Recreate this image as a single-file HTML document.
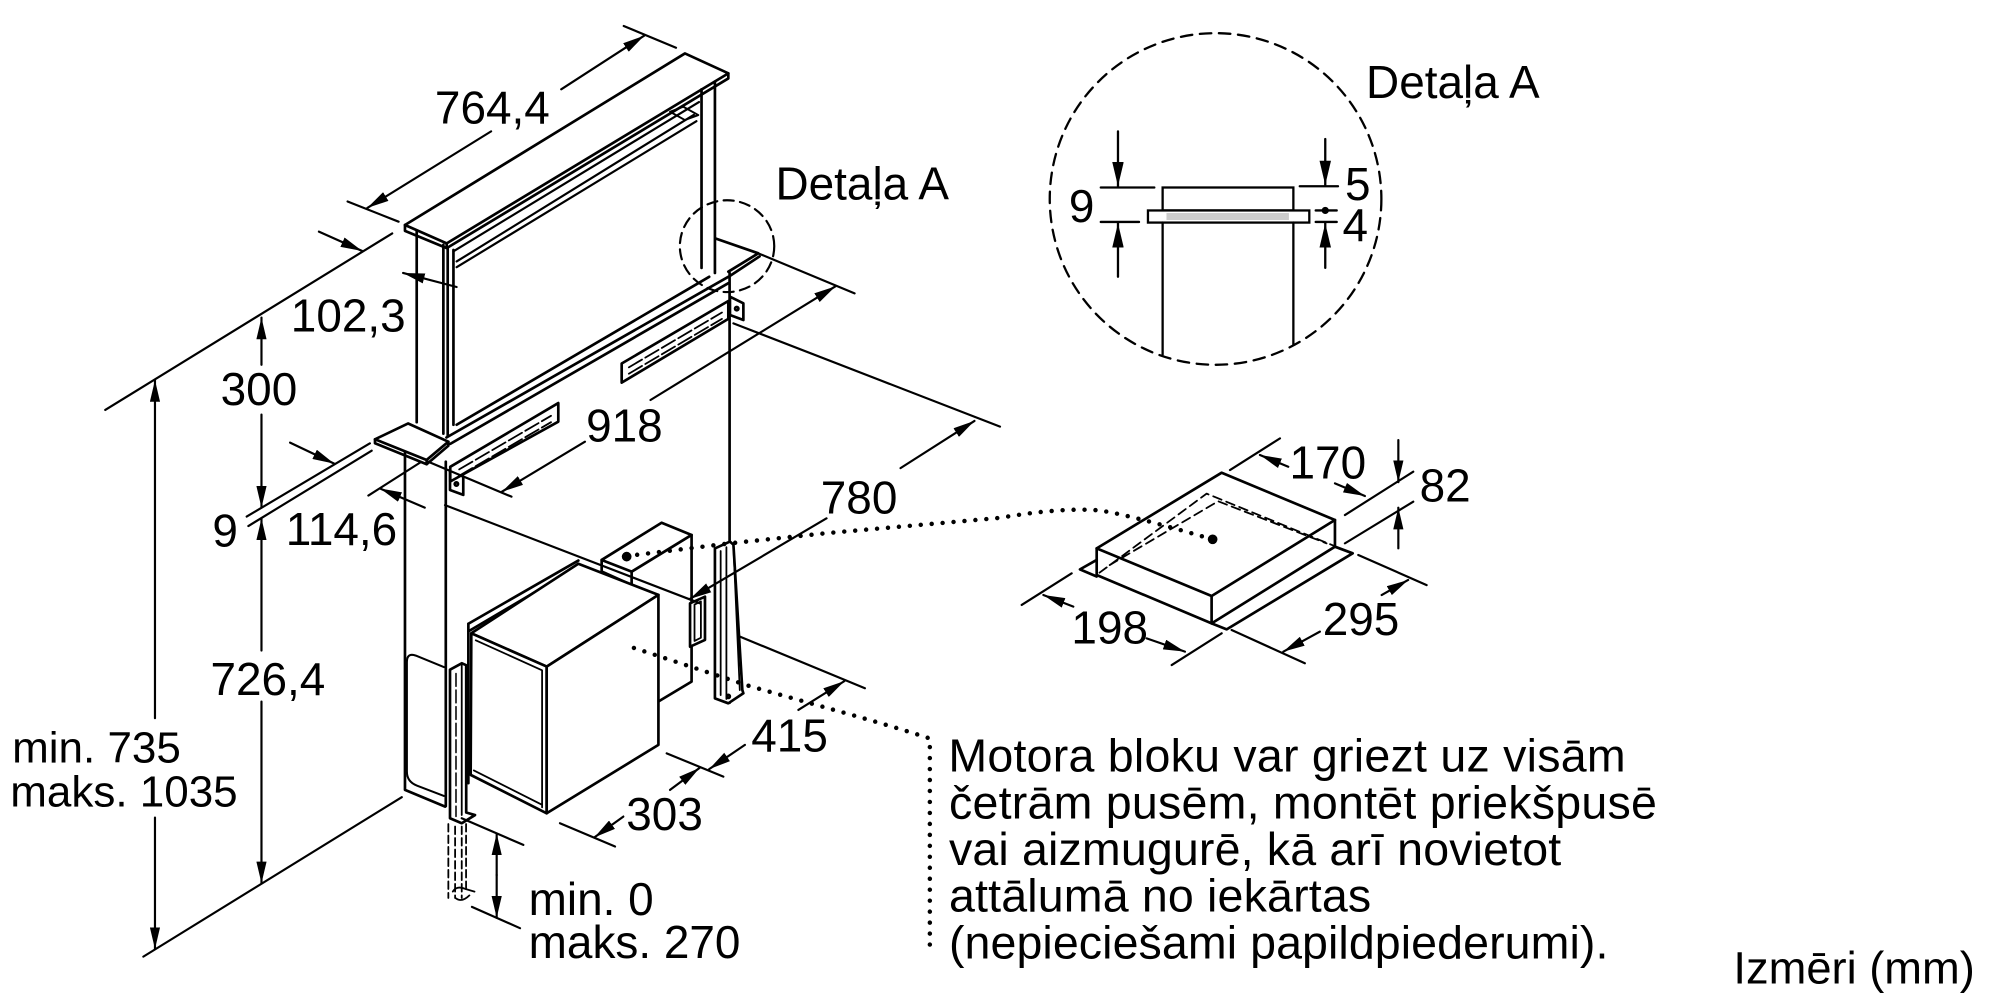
<!DOCTYPE html>
<html><head><meta charset="utf-8"><style>
html,body{margin:0;padding:0;background:#fff;}
svg{display:block;}
text{font-family:"Liberation Sans",Arial,sans-serif;fill:#000;}
</style></head><body>
<svg xmlns="http://www.w3.org/2000/svg" width="2000" height="1000" viewBox="0 0 1568 784">
<defs>
<marker id="a" viewBox="0 0 17 8" refX="17" refY="4" markerWidth="17" markerHeight="8" markerUnits="userSpaceOnUse" orient="auto"><path d="M0,0L17,4L0,8z" fill="#000"/></marker>
<marker id="b" viewBox="0 0 19 9" refX="19" refY="4.5" markerWidth="19" markerHeight="9" markerUnits="userSpaceOnUse" orient="auto"><path d="M0,0L19,4.5L0,9z" fill="#000"/></marker>
</defs>
<rect width="1568" height="784" fill="#fff"/>

<!-- ============ OBJECT LINES ============ -->
<g fill="none" stroke="#000" stroke-width="2.1" stroke-linejoin="round" stroke-linecap="round">
 <!-- top cap -->
 <polygon points="317.5,176.4 537,41.9 571,57.5 350.2,190.8" fill="#fff"/>
 <path d="M317.5,176.4 L317.5,181 L350.2,194.5 L571,61.5 L571,57.5 M350.2,190.8 L350.2,194.5"/>
 <!-- posts -->
 <path d="M326.7,181 V331 M347.6,192 V340 M351,194 V342 M355.5,196 V333"/>
 <path d="M550,70 V210 M560.5,64 V214"/>
 <!-- glass frame lines -->
 <path d="M355.5,197 L548,80 M358,205 L544,90 M358,209.5 L546,95" stroke-width="1.7"/>
 <polygon points="525.3,87.6 535.7,83.7 547.5,90.2 537,94.1" stroke-width="1.5"/>
 <!-- rail -->
 <path d="M350,343 L571,217 M353,348 L571,222 M358,333 L556,217"/>
 <!-- foot plate -->
 <polygon points="294,344.4 320,332 351.5,346.3 334.5,360.6" fill="#fff"/>
 <path d="M294,344.4 V347.5 L334.5,364 L351.5,349.5 V346.3 M334.5,360.6 V364"/>
 <!-- lower post lines and plate -->
 <path d="M317.5,355 V619.3 L349,632.4 M349.5,362 V632"/>
 <path d="M348,523 L326,514 Q319,511.5 319,519 L319,605 Q319,613 327,616 L348,624" stroke-width="1.6"/>
 <!-- left small bracket -->
 <polygon points="352.8,368.5 363.2,373.7 363.2,388 352.8,384.2" fill="#fff"/>
 <circle cx="357.8" cy="379.5" r="1.3"/>
 <!-- left slotted rail -->
 <path d="M353,366 L437.7,316 V330.6 L353,377.5 Z" fill="#fff"/>
 <path d="M360,368 L432,326 M360,373 L432,331" stroke-dasharray="12 3" stroke-width="1.4"/>
 <!-- right slotted rail -->
 <path d="M487.4,285 L571,236 V250 L487.4,300 Z" fill="#fff"/>
 <path d="M493,288 L566,245 M493,293 L566,250" stroke-dasharray="12 3" stroke-width="1.4"/>
 <!-- right bracket -->
 <polygon points="572.3,232.6 582.8,237.8 582.8,250.9 572.3,247" fill="#fff"/>
 <circle cx="577.6" cy="242" r="1.3"/>
 <!-- right countertop plate -->
 <path d="M561,187 L594.5,198.6 L571,213 M595.5,201 L572,216.5"/>
 <!-- right vertical -->
 <path d="M572,214 V551"/>

 <!-- back box / adapter -->
 <polygon points="471.7,439 518.7,409.8 542.2,419.4 495.2,448.2" fill="#fff"/>
 <path d="M471.7,439 V448 L495.2,458.6 V448.2 M542.2,419.4 V534.4 L516.2,550"/>
 <polygon points="541,473 552.7,467.8 552.7,501.7 541,507" fill="#fff"/>
 <path d="M544.5,474 L549.5,471.5 V500 L544.5,502.5 Z" stroke-width="1.4"/>

 <!-- right tall bracket -->
 <polygon points="560.5,430 572.3,424.6 575,427 582,541 582.8,543.5 571,551.4 560.5,547.5" fill="#fff"/>
 <path d="M565,432 V545 M569.5,429 V548 M575,428 L580,541" stroke-width="1.4"/>
 <circle cx="571" cy="546" r="1.2"/>
</g>

<!-- 780 long ext line (drawn before motor) -->
<g fill="none" stroke="#000" stroke-width="1.7" stroke-linecap="round">
 <path d="M348.9,396 L548.8,473"/>
</g>

<!-- motor box -->
<g fill="none" stroke="#000" stroke-width="2.1" stroke-linejoin="round" stroke-linecap="round">
 <path d="M367.2,489 L453.4,439.5 M367.2,489 V614 M367.2,495 L452,445"/>
 <polygon points="369.5,496.5 453.4,442 516.2,466.4 428.6,522.6" fill="#fff"/>
 <polygon points="369.5,496.5 428.6,522.6 428.6,637.6 369,607.5" fill="#fff"/>
 <polygon points="428.6,522.6 516.2,466.4 516.2,584 428.6,637.6" fill="#fff"/>
 <path d="M373,502 L425,525.5 V633 M371.5,604 L425,631" stroke-width="1.4"/>
 <!-- left tall bracket -->
 <polygon points="352.8,525 362,520 365.5,521.5 365.5,637 372.4,639 362,645.4 352.8,641.5" fill="#fff"/>
 <path d="M362,521 V639" stroke-width="1.4"/>
 <path d="M357.5,528 V640" stroke-width="1.2" stroke-dasharray="10 3"/>
 <!-- dashed extension below -->
 <path d="M351.5,646 V704 M356.8,648 V704 M362,648 V704 M365.4,646 V700" stroke-width="1.4" stroke-dasharray="6 3"/>
 <path d="M355,699 Q358,694 365,697 L372,699 M357,704 Q362,708 368,702" stroke-width="1.4"/>
</g>

<!-- ============ DIMENSIONS ============ -->
<g fill="none" stroke="#000" stroke-width="1.7" stroke-linecap="round">
 <!-- 764,4 -->
 <path d="M489,20.4 L530,37.4 M272.5,158 L312.5,173.8"/>
 <line x1="385" y1="103" x2="288" y2="163" marker-end="url(#a)"/>
 <line x1="440" y1="70" x2="505" y2="28" marker-end="url(#a)"/>
 <!-- 102,3 -->
 <line x1="250" y1="181.6" x2="284" y2="196.8" marker-end="url(#a)"/>
 <path d="M307.5,183 L82.5,321.4"/>
 <line x1="358" y1="225" x2="316" y2="214" marker-end="url(#a)"/>
 <!-- 300 -->
 <line x1="205" y1="286" x2="205" y2="249" marker-end="url(#a)"/>
 <line x1="205" y1="325" x2="205" y2="398" marker-end="url(#a)"/>
 <!-- 735/1035 -->
 <line x1="121.5" y1="563" x2="121.5" y2="298" marker-end="url(#a)"/>
 <line x1="121.5" y1="641" x2="121.5" y2="744" marker-end="url(#a)"/>
 <path d="M112.4,750 L315,625"/>
 <!-- 726,4 -->
 <line x1="205" y1="510" x2="205" y2="406.5" marker-end="url(#a)"/>
 <line x1="205" y1="550" x2="205" y2="692.5" marker-end="url(#a)"/>
 <!-- 9 lines -->
 <path d="M193.4,405 L290,347.6 M194.7,412.4 L291.4,353.3"/>
 <!-- 114,6 -->
 <line x1="227.4" y1="347" x2="262" y2="363.5" marker-end="url(#a)"/>
 <path d="M288.8,388.5 L329.3,362.7"/>
 <line x1="333" y1="398" x2="298" y2="383" marker-end="url(#a)"/>
 <!-- 918 -->
 <path d="M335.8,362 L401,389.4 M594.5,198.6 L670,230"/>
 <line x1="458.6" y1="346.3" x2="393.5" y2="385.5" marker-end="url(#a)"/>
 <line x1="510" y1="313.6" x2="655" y2="224.5" marker-end="url(#a)"/>
 <!-- 780 -->
 <path d="M575,253.5 L784,334.5"/>
 <line x1="648" y1="406.4" x2="541" y2="469.5" marker-end="url(#a)"/>
 <line x1="706" y1="367" x2="764" y2="330" marker-end="url(#a)"/>
 <!-- 415 -->
 <path d="M580.1,499.1 L678.1,539.6 M522.7,590.6 L567.1,608.9"/>
 <line x1="625.9" y1="556.6" x2="662" y2="534" marker-end="url(#a)"/>
 <line x1="584" y1="584" x2="556" y2="603" marker-end="url(#a)"/>
 <!-- 303 -->
 <path d="M439,645.4 L482.2,663.7"/>
 <line x1="488.7" y1="640.2" x2="466" y2="656.5" marker-end="url(#a)"/>
 <line x1="525.3" y1="619.3" x2="548.5" y2="602" marker-end="url(#a)"/>
 <!-- min 0 / maks 270 -->
 <path d="M362,641.5 L410.3,662.4 M370,711 L407.7,727.7"/>
 <line x1="389.4" y1="686" x2="389.4" y2="653.5" marker-end="url(#a)"/>
 <line x1="389.4" y1="686" x2="389.4" y2="719.5" marker-end="url(#a)"/>
 <!-- small detail ellipse -->
 <ellipse cx="570" cy="193" rx="37" ry="36" stroke-dasharray="8 5"/>
</g>

<!-- ============ DOTTED LEADERS ============ -->
<g fill="none" stroke="#000" stroke-width="3.5" stroke-linecap="round" stroke-dasharray="0 8.6">
 <path d="M491,436 L572,426 L648,418 L784,406 Q830,398 860,400 Q880,402 951,423"/>
 <path d="M497,508 L588,538 L666,560 Q705,571 729,579 L729,745"/>
</g>
<circle cx="491.3" cy="436.4" r="3.8" fill="#000"/>
<circle cx="950.7" cy="422.8" r="3.8" fill="#000"/>

<!-- ============ RIGHT BOX ============ -->
<g fill="none" stroke="#000" stroke-width="2.1" stroke-linejoin="round" stroke-linecap="round">
 <path d="M859.8,439 L846.7,446.4 L859.8,452 M949.9,488.7 L961.7,493.4 L1060.5,433.8 L1046.6,428.6"/>
 <polygon points="859.8,429.9 957.8,370.6 1046.6,407.7 949.9,467.3"/>
 <path d="M859.8,429.9 V450.8 L949.9,488.7 L1046.6,428.6 V407.7 M949.9,467.3 V488.7"/>
 <path d="M862,449 L946,387 L1046,428 M870,443 L955,393 L1040,426" stroke-width="1.4" stroke-dasharray="7 4"/>
</g>
<g fill="none" stroke="#000" stroke-width="1.7" stroke-linecap="round">
 <!-- 170 -->
 <path d="M964.3,368.5 L1003.5,343.7 M1054.4,403.8 L1108,369.8"/>
 <line x1="1010" y1="365.9" x2="987.8" y2="356.7" marker-end="url(#a)"/>
 <line x1="1046.6" y1="379" x2="1070.1" y2="388.9" marker-end="url(#a)"/>
 <!-- 82 -->
 <path d="M1054.4,426 L1108,393.3"/>
 <line x1="1096.3" y1="345" x2="1096.3" y2="378" marker-end="url(#a)"/>
 <line x1="1096.3" y1="429.9" x2="1096.3" y2="398" marker-end="url(#a)"/>
 <!-- 198 -->
 <path d="M801,474.3 L840.2,449.5 M918.6,521.4 L957.8,496.5"/>
 <line x1="841.5" y1="475.6" x2="818" y2="466.5" marker-end="url(#a)"/>
 <line x1="899" y1="500.5" x2="929" y2="510.9" marker-end="url(#a)"/>
 <!-- 295 -->
 <path d="M965.6,493.9 L1023,520 M1064.9,435.1 L1118.5,458.7"/>
 <line x1="1034.8" y1="495.2" x2="1006.1" y2="510.9" marker-end="url(#a)"/>
 <line x1="1083.2" y1="466.5" x2="1104" y2="454.7" marker-end="url(#a)"/>
</g>

<!-- ============ DETAIL A ============ -->
<g fill="none" stroke="#000" stroke-width="1.8" stroke-linecap="round">
 <circle cx="953" cy="156" r="130" stroke-dasharray="9 6"/>
 <rect x="911.5" y="147" width="102.5" height="18" fill="#fff"/>
 <rect x="900" y="165" width="126.5" height="9.5" fill="#fff"/>
 <rect x="914.5" y="167" width="96" height="5.5" fill="#ccc" stroke="none"/>
 <path d="M911.5,174.5 V278 M1014,174.5 V270"/>
 <path d="M863,147 H905 M863,174 H893"/>
 <line x1="876.5" y1="103" x2="876.5" y2="146" marker-end="url(#b)"/>
 <line x1="876.5" y1="217" x2="876.5" y2="175" marker-end="url(#b)"/>
 <path d="M1019,146 H1049 M1031.5,165 H1048 M1031.5,174 H1048"/>
 <line x1="1039" y1="109" x2="1039" y2="145" marker-end="url(#b)"/>
 <line x1="1039" y1="210" x2="1039" y2="175" marker-end="url(#b)"/>
</g>
<circle cx="1039" cy="165" r="2.8" fill="#000"/>

<!-- ============ TEXT ============ -->
<g font-size="36">
 <text x="341" y="97">764,4</text>
 <text x="608" y="156.5">Detaļa A</text>
 <text x="1071" y="77">Detaļa A</text>
 <text x="228" y="260">102,3</text>
 <text x="173" y="317.5">300</text>
 <text x="459.5" y="346">918</text>
 <text x="643.5" y="402.5">780</text>
 <text x="166.5" y="428.6">9</text>
 <text x="224" y="427.3">114,6</text>
 <text x="165" y="545">726,4</text>
 <text x="589" y="589.3">415</text>
 <text x="491" y="650.7">303</text>
 <text x="414.5" y="717.3">min. 0</text>
 <text x="414.5" y="751">maks. 270</text>
 <text x="1011" y="375">170</text>
 <text x="1113" y="393.3">82</text>
 <text x="840" y="504.4">198</text>
 <text x="1037" y="497.8">295</text>
 <text x="838" y="174">9</text>
 <text x="1054.5" y="157">5</text>
 <text x="1052.5" y="189">4</text>
</g>
<text x="9.5" y="598" font-size="34.5">min. 735</text>
<text x="8" y="632.5" font-size="34.5">maks. 1035</text>
<text x="1359" y="771" font-size="35.5">Izmēri (mm)</text>
<g font-size="36.5">
 <text x="743.5" y="605" textLength="531" lengthAdjust="spacing">Motora bloku var griezt uz visām</text>
 <text x="744" y="641.6" textLength="555" lengthAdjust="spacing">četrām pusēm, montēt priekšpusē</text>
 <text x="744" y="678" textLength="480" lengthAdjust="spacing">vai aizmugurē, kā arī novietot</text>
 <text x="744" y="714.8" textLength="331" lengthAdjust="spacing">attālumā no iekārtas</text>
 <text x="744" y="751.4" textLength="517" lengthAdjust="spacing">(nepieciešami papildpiederumi).</text>
</g>
</svg>
</body></html>
